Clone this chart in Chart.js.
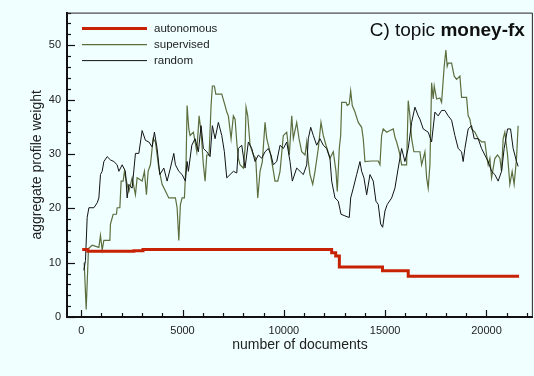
<!DOCTYPE html>
<html>
<head>
<meta charset="utf-8">
<script src="https://cdn.jsdelivr.net/npm/chart.js@4.4.1/dist/chart.umd.min.js"></script>
<style>
  html, body { margin: 0; padding: 0; background: #f0ffff; }
  #wrap { width: 534px; height: 376px; }
</style>
</head>
<body>
<div id="wrap"><canvas id="chartMoneyFx" width="534" height="376"></canvas></div>
<script>
var fontFamily = '"Liberation Sans", Arial, Helvetica, sans-serif';

// autonomous: weight level starting at each doc count (stepped)
var autoDocs = [50, 330, 2600, 3050, 12360, 12560, 12740, 14870, 16140, 21610];
var autoWeights = [12.4, 12.1, 12.2, 12.4, 11.8, 11.2, 9.2, 8.5, 7.5, 7.5];

// supervised
var supDocs = [
  148, 247, 360, 542, 873, 952, 1036, 1119, 1415, 1445,
  1578, 1741, 1775, 1908, 1972, 2071, 2135, 2234, 2352, 2515,
  2678, 2761, 3008, 3121, 3220, 3304, 3417, 3550, 3664, 3831,
  3994, 4324, 4650, 4734, 4818, 4896, 4980, 5094, 5178, 5227,
  5311, 5375, 5538, 5705, 5819, 5917, 6030, 6114, 6198, 6312,
  6410, 6474, 6573, 6642, 6938, 7101, 7184, 7263, 7397, 7510,
  7594, 7678, 7756, 7840, 8003, 8087, 8136, 8220, 8334, 8496,
  8614, 8713, 8826, 8940, 9073, 9157, 9320, 9433, 9566, 9700,
  9813, 9976, 10143, 10271, 10390, 10469, 10636, 10750, 10883, 11046,
  11130, 11208, 11292, 11425, 11539, 11701, 11834, 11948, 12081, 12278,
  12441, 12574, 12638, 12737, 12806, 12855, 13067, 13131, 13230, 13299,
  13378, 13511, 13674, 13841, 13920, 14004, 14334, 14660, 14743, 14827,
  14906, 15074, 15237, 15400, 15483, 15567, 15695, 15814, 16060, 16139,
  16223, 16307, 16420, 16716, 16800, 16963, 17047, 17126, 17210, 17293,
  17372, 17422, 17540, 17702, 17786, 17914, 17998, 18062, 18112, 18279,
  18408, 18526, 18689, 18772, 19019, 19098, 19182, 19265, 19428, 19591,
  19759, 19921, 20005, 20084, 20168, 20252, 20415, 20547, 20661, 20745,
  20824, 20908, 21041, 21154, 21268, 21366, 21484, 21563
];
var supWeights = [
  10.0, 1.4, 12.6, 13.2, 12.8, 15.0, 12.3, 14.1, 14.1, 17.1,
  18.9, 18.9, 20.1, 20.1, 25.0, 25.0, 26.8, 25.0, 23.1, 25.6,
  22.5, 25.6, 25.0, 26.8, 22.5, 26.8, 28.0, 32.8, 32.2, 27.4,
  24.4, 21.9, 21.9, 20.1, 14.1, 20.7, 21.9, 21.9, 28.6, 38.9,
  34.6, 33.4, 34.0, 30.4, 37.0, 34.0, 28.0, 25.0, 29.8, 29.8,
  38.9, 42.5, 42.5, 41.0, 41.0, 38.9, 37.7, 37.0, 32.8, 37.0,
  36.4, 32.2, 29.2, 28.0, 27.4, 31.0, 38.6, 37.0, 31.6, 29.8,
  29.2, 21.9, 26.8, 28.6, 35.8, 32.8, 30.4, 28.0, 25.0, 25.0,
  26.8, 33.4, 34.0, 29.8, 37.0, 32.8, 35.8, 32.8, 30.4, 29.8,
  32.2, 28.6, 26.2, 24.4, 26.8, 31.0, 35.8, 33.4, 31.6, 29.2,
  30.4, 26.8, 23.1, 31.0, 33.4, 39.5, 39.5, 38.9, 39.2, 41.6,
  38.9, 37.7, 35.8, 34.9, 32.8, 28.6, 28.7, 28.7, 28.0, 33.4,
  34.6, 34.0, 34.3, 34.6, 33.1, 32.2, 30.4, 28.0, 28.0, 39.8,
  37.0, 32.8, 30.4, 30.4, 28.0, 30.4, 25.6, 23.7, 28.0, 43.1,
  40.1, 42.5, 40.1, 40.3, 39.5, 46.1, 49.1, 46.1, 46.7, 46.7,
  44.3, 43.7, 44.3, 40.4, 40.4, 37.0, 36.4, 34.6, 34.0, 32.8,
  32.2, 32.2, 29.8, 28.0, 29.2, 25.6, 29.2, 29.8, 29.2, 26.8,
  32.8, 34.0, 29.8, 24.4, 26.8, 24.4, 29.2, 35.2
];

// random
var randDocs = [
  133, 212, 296, 380, 626, 789, 873, 952, 1036, 1119,
  1282, 1445, 1612, 1775, 1859, 2022, 2184, 2268, 2352, 2515,
  2678, 2845, 3008, 3171, 3338, 3501, 3614, 3748, 3881, 4078,
  4241, 4403, 4571, 4650, 4818, 4980, 5143, 5227, 5291, 5459,
  5621, 5784, 5917, 6030, 6198, 6361, 6474, 6608, 6770, 6938,
  7066, 7184, 7347, 7510, 7678, 7756, 7924, 8087, 8250, 8417,
  8580, 8743, 8911, 9073, 9236, 9369, 9482, 9650, 9813, 9976,
  10143, 10306, 10419, 10636, 10799, 10962, 11130, 11208, 11327, 11455,
  11622, 11785, 11948, 12115, 12278, 12362, 12525, 12688, 12821, 13018,
  13230, 13299, 13427, 13595, 13757, 13841, 13955, 14088, 14251, 14414,
  14546, 14660, 14778, 14877, 14990, 15104, 15321, 15483, 15646, 15814,
  15976, 16139, 16307, 16470, 16632, 16716, 16879, 17126, 17293, 17456,
  17618, 17786, 17949, 18112, 18279, 18442, 18605, 18772, 18851, 18935,
  19098, 19265, 19394, 19591, 19759, 19921, 20084, 20252, 20415, 20577,
  20745, 20873, 21041, 21189, 21317, 21401, 21484, 21563
];
var randWeights = [
  8.6, 10.4, 18.3, 20.1, 20.1, 21.0, 21.9, 26.2, 26.8, 28.6,
  29.5, 28.9, 28.6, 28.0, 26.8, 28.0, 26.8, 21.9, 24.4, 23.7,
  30.1, 30.1, 34.3, 32.5, 32.2, 31.3, 34.0, 31.0, 26.2, 27.4,
  25.0, 27.4, 30.1, 28.0, 26.8, 26.2, 25.0, 28.6, 26.8, 31.6,
  32.8, 30.4, 35.2, 31.0, 30.4, 29.5, 35.2, 32.8, 35.8, 33.4,
  30.4, 25.6, 26.2, 26.8, 26.5, 31.0, 31.6, 27.4, 32.2, 31.0,
  28.6, 29.8, 29.2, 30.4, 31.0, 29.8, 28.0, 28.6, 31.6, 31.0,
  32.2, 28.6, 25.0, 27.4, 26.8, 26.2, 28.0, 32.8, 34.9, 33.4,
  31.6, 32.8, 31.6, 31.0, 29.2, 25.0, 21.9, 21.3, 18.9, 18.6,
  18.3, 21.9, 23.7, 26.2, 28.6, 26.8, 25.6, 22.5, 26.2, 25.0,
  21.3, 20.7, 17.1, 16.5, 19.5, 20.7, 21.9, 23.7, 27.4, 31.0,
  28.6, 31.0, 35.8, 38.6, 37.0, 36.4, 34.6, 34.0, 32.2, 37.7,
  37.0, 38.0, 38.0, 37.0, 36.2, 33.4, 31.0, 30.4, 28.6, 31.0,
  34.6, 35.2, 32.8, 32.8, 31.0, 29.8, 28.6, 26.8, 26.2, 25.0,
  26.8, 31.0, 34.6, 34.6, 31.0, 29.8, 28.6, 27.7
];

var xTicks = [0, 1000, 2000, 3000, 4000, 5000, 6000, 7000, 8000, 9000, 10000,
  11000, 12000, 13000, 14000, 15000, 16000, 17000, 18000, 19000, 20000, 21000, 22000];
var xLabelled = [0, 5000, 10000, 15000, 20000];
var yTicks = [0, 2, 4, 6, 8, 10, 12, 14, 16, 18, 20, 22, 24, 26, 28, 30,
  32, 34, 36, 38, 40, 42, 44, 46, 48, 50, 52, 54, 56];
var yLabelled = [0, 10, 20, 30, 40, 50];

var seriesColors = {
  autonomous: 'rgb(200, 34, 4)',
  supervised: 'rgb(92, 110, 62)',
  random: 'rgb(18, 18, 18)'
};

function toPoints(xs, ys) {
  return xs.map(function (x, i) { return { x: x, y: ys[i] }; });
}

// ticks point inward, majors longer
var innerTicks = {
  id: 'innerTicks',
  afterDraw: function (chart) {
    var ctx = chart.ctx, a = chart.chartArea;
    var sx = chart.scales.x, sy = chart.scales.y;
    ctx.save();
    ctx.strokeStyle = '#111';
    ctx.lineWidth = 1.2;
    xTicks.forEach(function (v) {
      var px = Math.round(sx.getPixelForValue(v)) + 0.5;
      var len = xLabelled.indexOf(v) >= 0 ? 7 : 4;
      ctx.beginPath();
      ctx.moveTo(px, a.bottom);
      ctx.lineTo(px, a.bottom - len);
      ctx.stroke();
    });
    yTicks.forEach(function (v) {
      var py = Math.round(sy.getPixelForValue(v)) + 0.5;
      var len = yLabelled.indexOf(v) >= 0 ? 8 : 4;
      ctx.beginPath();
      ctx.moveTo(a.left, py);
      ctx.lineTo(a.left + len, py);
      ctx.stroke();
    });
    // top and right frame
    ctx.lineWidth = 1;
    ctx.strokeStyle = '#222';
    ctx.beginPath();
    ctx.moveTo(a.left, a.top + 0.5);
    ctx.lineTo(a.right - 0.5, a.top + 0.5);
    ctx.lineTo(a.right - 0.5, a.bottom);
    ctx.stroke();
    ctx.restore();
  }
};

// legend inside top-left, title inside top-right
var insideLabels = {
  id: 'insideLabels',
  afterDraw: function (chart) {
    var ctx = chart.ctx, a = chart.chartArea;
    var rows = [
      { label: 'autonomous', color: seriesColors.autonomous, width: 3 },
      { label: 'supervised', color: seriesColors.supervised, width: 1.4 },
      { label: 'random', color: seriesColors.random, width: 1 }
    ];
    ctx.save();
    ctx.font = '11.5px ' + fontFamily;
    ctx.textBaseline = 'middle';
    rows.forEach(function (r, i) {
      var y = a.top + 16 + i * 16;
      ctx.strokeStyle = r.color;
      ctx.lineWidth = r.width;
      ctx.beginPath();
      ctx.moveTo(a.left + 15, y);
      ctx.lineTo(a.left + 80, y);
      ctx.stroke();
      ctx.fillStyle = '#222';
      ctx.fillText(r.label, a.left + 87, y);
    });

    var right = a.right - 8, base = a.top + 23;
    ctx.textBaseline = 'alphabetic';
    ctx.textAlign = 'right';
    ctx.fillStyle = '#111';
    ctx.font = 'bold 19px ' + fontFamily;
    var boldText = 'money-fx';
    var bw = ctx.measureText(boldText).width;
    ctx.fillText(boldText, right, base);
    ctx.font = '19px ' + fontFamily;
    ctx.fillText('C) topic ', right - bw, base);
    ctx.restore();
  }
};

var config = {
  type: 'line',
  data: {
    datasets: [
      {
        label: 'autonomous',
        data: toPoints(autoDocs, autoWeights),
        borderColor: seriesColors.autonomous,
        borderWidth: 3,
        stepped: 'before',
        pointRadius: 0,
        fill: false,
        order: 0
      },
      {
        label: 'supervised',
        data: toPoints(supDocs, supWeights),
        borderColor: seriesColors.supervised,
        borderWidth: 1.2,
        pointRadius: 0,
        tension: 0,
        fill: false,
        order: 2
      },
      {
        label: 'random',
        data: toPoints(randDocs, randWeights),
        borderColor: seriesColors.random,
        borderWidth: 1,
        pointRadius: 0,
        tension: 0,
        fill: false,
        order: 1
      }
    ]
  },
  options: {
    responsive: false,
    animation: false,
    devicePixelRatio: 1,
    layout: { padding: { top: 9, right: 1, left: 0, bottom: 0 } },
    plugins: {
      legend: { display: false },
      title: { display: false },
      tooltip: { enabled: false }
    },
    scales: {
      x: {
        type: 'linear',
        min: -700,
        max: 22290,
        afterBuildTicks: function (s) { s.ticks = xTicks.map(function (v) { return { value: v }; }); },
        afterFit: function (s) { s.height = 59; },
        grid: { display: false, drawTicks: false },
        border: { display: true, color: '#111', width: 2 },
        ticks: {
          autoSkip: false,
          maxRotation: 0,
          padding: 7,
          color: '#222',
          font: { family: fontFamily, size: 11 },
          callback: function (v) { return xLabelled.indexOf(v) >= 0 ? String(v) : ''; }
        },
        title: {
          display: true,
          text: 'number of documents',
          color: '#222',
          font: { family: fontFamily, size: 14 },
          padding: { top: 0, bottom: 22 }
        }
      },
      y: {
        type: 'linear',
        min: 0,
        max: 56,
        afterBuildTicks: function (s) { s.ticks = yTicks.map(function (v) { return { value: v }; }); },
        afterFit: function (s) { s.width = 67; },
        grid: { display: false, drawTicks: false },
        border: { display: true, color: '#111', width: 2 },
        ticks: {
          autoSkip: false,
          padding: 6,
          color: '#222',
          font: { family: fontFamily, size: 11 },
          callback: function (v) { return yLabelled.indexOf(v) >= 0 ? String(v) : ''; }
        },
        title: {
          display: true,
          text: 'aggregate profile weight',
          color: '#222',
          font: { family: fontFamily, size: 14 },
          padding: { top: 29, bottom: 0 }
        }
      }
    }
  },
  plugins: [innerTicks, insideLabels]
};

var ctx = document.getElementById('chartMoneyFx').getContext('2d');
window.chartMoneyFx = new Chart(ctx, config);
</script>
</body>
</html>
